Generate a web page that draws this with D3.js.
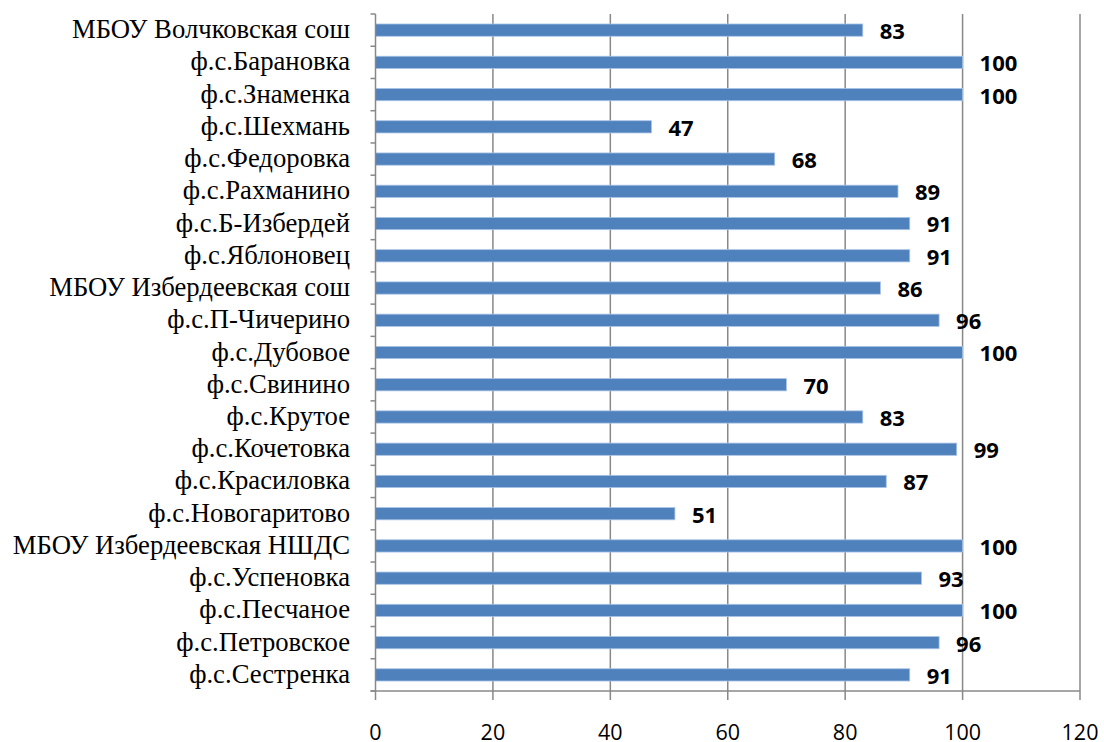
<!DOCTYPE html>
<html><head><meta charset="utf-8">
<script src="https://cdn.jsdelivr.net/npm/d3@7"></script>
<style>body{margin:0;background:#fff}</style>
</head><body>
<svg id="c" width="1104" height="742"></svg>
<script>
const categories = ["МБОУ Волчковская сош","ф.с.Барановка","ф.с.Знаменка","ф.с.Шехмань","ф.с.Федоровка","ф.с.Рахманино","ф.с.Б-Избердей","ф.с.Яблоновец","МБОУ Избердеевская сош","ф.с.П-Чичерино","ф.с.Дубовое","ф.с.Свинино","ф.с.Крутое","ф.с.Кочетовка","ф.с.Красиловка","ф.с.Новогаритово","МБОУ Избердеевская НШДС","ф.с.Успеновка","ф.с.Песчаное","ф.с.Петровское","ф.с.Сестренка"];
const values = [83,100,100,47,68,89,91,91,86,96,100,70,83,99,87,51,100,93,100,96,91];
const xTicks = [0,20,40,60,80,100,120];

(function(){
const svg = d3.select("#c");
const pLeft = 375.5, pRight = 1080, pTop = 14, pBottom = 691;
const x = d3.scaleLinear().domain([0,120]).range([pLeft,pRight]);
const y = d3.scaleBand().domain(categories).range([pTop,pBottom]).paddingInner(0.62).paddingOuter(0.31);

svg.append("g").selectAll("line").data(xTicks.slice(1)).join("line")
  .attr("x1",d=>x(d)).attr("x2",d=>x(d)).attr("y1",pTop).attr("y2",pBottom+9)
  .attr("stroke","#888").attr("stroke-width",1.5);

svg.append("g").selectAll("rect").data(values).join("rect")
  .attr("x",x(0)).attr("y",(d,i)=>y(categories[i]))
  .attr("width",d=>x(d)-x(0)).attr("height",y.bandwidth())
  .attr("fill","#4F81BD").attr("stroke","#A9C4E6").attr("stroke-width",0.8);

svg.append("line").attr("x1",pLeft).attr("x2",pLeft).attr("y1",pTop).attr("y2",pBottom+9).attr("stroke","#888").attr("stroke-width",1.5);
svg.append("line").attr("x1",pLeft-5).attr("x2",pRight).attr("y1",pBottom).attr("y2",pBottom).attr("stroke","#888").attr("stroke-width",1.5);
const bounds = d3.range(categories.length+1).map(i=>pTop + i*(pBottom-pTop)/categories.length);
svg.append("g").selectAll("line").data(bounds).join("line")
  .attr("x1",pLeft-5).attr("x2",pLeft).attr("y1",d=>d).attr("y2",d=>d)
  .attr("stroke","#888").attr("stroke-width",1.5);

svg.append("g").selectAll("text").data(categories).join("text")
  .attr("x",350).attr("y",d=>y(d)+y.bandwidth()/2).attr("dy","0.3em")
  .attr("text-anchor","end").attr("font-family","'Liberation Serif'")
  .style("font-size","26.7px").attr("fill","#000").text(d=>d);

svg.append("g").selectAll("text").data(values).join("text")
  .attr("x",d=>x(d)+17).attr("y",(d,i)=>y(categories[i])+y.bandwidth()/2+1).attr("dy","0.36em")
  .attr("font-family","'Open Sans'").attr("font-weight","bold")
  .style("font-size","22px").attr("fill","#000").text(d=>d);

svg.append("g").selectAll("text").data(xTicks).join("text")
  .attr("x",d=>x(d)).attr("y",740).attr("text-anchor","middle")
  .attr("font-family","'Open Sans'").style("font-size","21.5px").attr("fill","#000").text(d=>d);
})();
</script>
</body></html>
